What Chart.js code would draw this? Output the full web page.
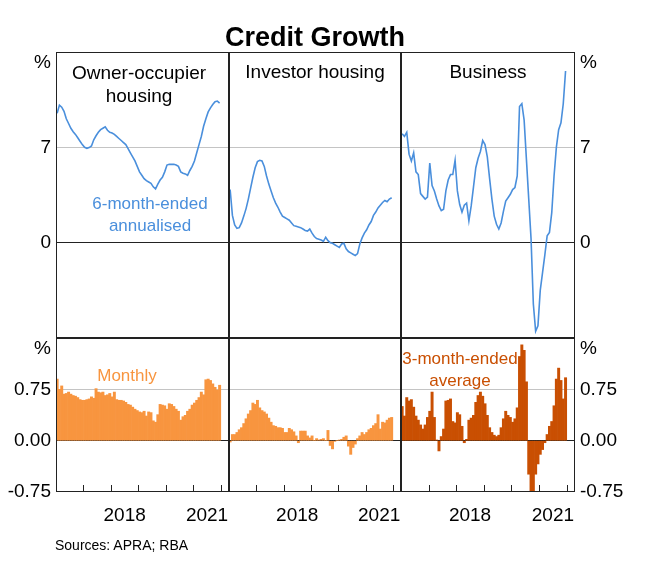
<!DOCTYPE html>
<html>
<head>
<meta charset="utf-8">
<script src="https://cdn.jsdelivr.net/npm/chart.js@4.4.0/dist/chart.umd.min.js"></script>
<style>
  body { margin: 0; background: #fff; font-family: "Liberation Sans", Arial, sans-serif; }
  #wrap { position: relative; width: 662px; height: 562px; overflow: hidden; }
  canvas { position: absolute; }
  .lbl { position: absolute; transform: translate(-50%, -50%); white-space: nowrap; font-size: 19px; line-height: 23px; text-align: center; }
  .note { font-size: 17px; line-height: 22px; }
</style>
</head>
<body>
<div id="wrap">
  <canvas id="c1"></canvas>
  <canvas id="c2"></canvas>
  <canvas id="c3"></canvas>
  <canvas id="c4"></canvas>
  <canvas id="c5"></canvas>
  <canvas id="c6"></canvas>

  <div class="lbl" style="left:315px; top:37px; font-size:27px; font-weight:bold;">Credit Growth</div>
  <div class="lbl" style="left:139px; top:84px;">Owner-occupier<br>housing</div>
  <div class="lbl" style="left:315px; top:71px;">Investor housing</div>
  <div class="lbl" style="left:488px; top:71px;">Business</div>
  <div class="lbl note" style="left:150px; top:215px; color:#4a8fdc;">6-month-ended<br>annualised</div>
  <div class="lbl note" style="left:127px; top:376px; color:#f8953f;">Monthly</div>
  <div class="lbl note" style="left:460px; top:370px; color:#c94f02;">3-month-ended<br>average</div>
  <div style="position:absolute; left:55px; top:537px; font-size:14px;">Sources: APRA; RBA</div>
</div>

<script>
// months from Jan 2016 to Dec 2021
const START = 2016;
const X_MAX = 2022.3;
const yearTicks = [2017, 2018, 2019, 2020, 2021, 2022];
const yearLabels = [2018, 2021];

const topTicks = [0, 7];
const bottomTicks = [-0.75, 0, 0.75];

// 6-month-ended annualised, %
const ownerGrowth = [9.5, 10.1, 9.95, 9.65, 9.1, 8.75, 8.4, 8.15, 7.95, 7.7, 7.45, 7.2,
  7.0, 6.93, 6.98, 7.1, 7.55, 7.85, 8.1, 8.3, 8.4, 8.5, 8.25, 8.1,
  8.05, 7.95, 7.8, 7.65, 7.5, 7.35, 7.2, 6.9, 6.6, 6.3, 6.0, 5.6,
  5.2, 4.95, 4.7, 4.55, 4.45, 4.35, 4.1, 3.95, 4.3, 4.6, 4.8, 5.2,
  5.7, 5.75, 5.75, 5.75, 5.7, 5.6, 5.2, 5.1, 5.05, 4.95, 5.3, 5.6,
  6.0, 6.6, 7.2, 7.8, 8.55, 9.1, 9.6, 9.9, 10.15, 10.35, 10.4, 10.25];
const investorGrowth = [3.9, 2.0, 1.3, 1.05, 1.1, 1.45, 1.95, 2.5, 3.2, 4.0, 4.8, 5.5,
  5.95, 6.05, 6.0, 5.6, 4.9, 4.3, 3.8, 3.3, 2.9, 2.6, 2.25, 1.95,
  1.85, 1.75, 1.65, 1.45, 1.25, 1.2, 1.15, 1.1, 1.0, 0.9, 0.85, 1.0,
  0.7, 0.45, 0.3, 0.25, 0.2, 0.1, 0.4, 0.15, 0.0, -0.05, -0.15, -0.25,
  -0.35, -0.1, -0.05, -0.45, -0.65, -0.75, -0.85, -0.95, -0.8, -0.1, 0.35, 0.7,
  0.95, 1.3, 1.55, 2.0, 2.25, 2.55, 2.75, 2.95, 3.1, 3.0, 3.2, 3.3];
const businessGrowth = [8.0, 7.8, 8.1, 6.5, 6.0, 6.6, 5.2, 5.0, 3.6, 3.4, 3.2, 3.35,
  5.85, 4.2, 3.8, 3.2, 2.7, 2.35, 2.45, 3.8, 4.6, 5.0, 5.0, 6.05,
  3.8, 2.8, 2.25, 2.75, 2.9, 1.6, 2.7, 4.1, 5.5, 6.2, 6.7, 7.5,
  7.2, 6.3, 4.7, 3.2, 1.95, 1.35, 1.0, 1.45, 2.3, 3.05, 3.3, 3.55,
  3.9, 4.05, 4.9, 10.0, 10.2, 9.0, 6.1, 3.2, 0.3, -4.5, -6.5, -6.1,
  -3.5, -2.2, -0.9, 0.5, 0.75, 2.2, 4.9, 7.0, 8.3, 8.8, 10.2, 12.6];

// monthly / 3-month-ended average, %
const ownerMonthly = [0.90, 0.75, 0.80, 0.68, 0.69, 0.71, 0.68, 0.66, 0.65, 0.63, 0.60, 0.59,
  0.59, 0.60, 0.61, 0.64, 0.62, 0.76, 0.71, 0.70, 0.71, 0.66, 0.67, 0.69,
  0.64, 0.71, 0.60, 0.59, 0.59, 0.58, 0.56, 0.53, 0.52, 0.49, 0.46, 0.44,
  0.42, 0.41, 0.43, 0.36, 0.42, 0.41, 0.29, 0.27, 0.38, 0.53, 0.52, 0.51,
  0.46, 0.54, 0.53, 0.50, 0.46, 0.43, 0.30, 0.35, 0.37, 0.43, 0.46, 0.52,
  0.55, 0.59, 0.63, 0.71, 0.67, 0.89, 0.90, 0.88, 0.83, 0.78, 0.74, 0.81];
const investorMonthly = [-0.02, 0.09, 0.09, 0.12, 0.16, 0.19, 0.25, 0.32, 0.39, 0.44, 0.55, 0.53,
  0.59, 0.48, 0.44, 0.42, 0.39, 0.33, 0.27, 0.22, 0.21, 0.19, 0.19, 0.18,
  0.12, 0.12, 0.18, 0.16, 0.13, 0.07, -0.03, 0.14, 0.14, 0.14, 0.07, 0.04,
  0.07, 0.00, 0.03, 0.01, 0.02, 0.03, 0.00, 0.15, -0.07, -0.12, -0.01, 0.00,
  0.01, 0.02, 0.05, 0.07, -0.08, -0.20, -0.10, -0.05, 0.03, 0.07, 0.12, 0.09,
  0.12, 0.16, 0.18, 0.22, 0.25, 0.38, 0.17, 0.27, 0.26, 0.30, 0.33, 0.34];
const business3m = [0.50, 0.36, 0.63, 0.58, 0.60, 0.49, 0.36, 0.30, 0.23, 0.17, 0.23, 0.34,
  0.43, 0.71, 0.34, 0.01, -0.15, 0.06, 0.17, 0.58, 0.59, 0.61, 0.28, 0.26,
  0.41, 0.38, 0.21, -0.03, 0.02, 0.30, 0.33, 0.37, 0.56, 0.66, 0.71, 0.65,
  0.54, 0.37, 0.19, 0.12, 0.08, 0.06, 0.08, 0.19, 0.32, 0.43, 0.37, 0.34,
  0.27, 0.32, 0.48, 1.23, 1.40, 1.32, 0.86, -0.49, -0.76, -0.76, -0.49, -0.34,
  -0.20, -0.13, -0.03, 0.09, 0.21, 0.28, 0.51, 0.90, 1.06, 0.88, 0.61, 0.92];

const BLUE = '#4a8fdc';
const ORANGE = '#f8953f';
const DARK_ORANGE = '#c94f02';
const FONT = { family: '"Liberation Sans", Arial, sans-serif', size: 19 };

// values where the "%" unit label sits
const PCT_TOP = 13.2;
const PCT_BOTTOM = 1.35;

function pts(arr) {
  return arr.map((v, i) => ({ x: START + (i + 0.5) / 12, y: v }));
}

// panel outline
const framePlugin = {
  id: 'frame',
  afterDraw(chart) {
    const { ctx, chartArea: a } = chart;
    ctx.save();
    ctx.strokeStyle = '#222';
    ctx.lineWidth = 1;
    ctx.strokeRect(Math.round(a.left) + 0.5, Math.round(a.top) + 0.5,
      Math.round(a.right - a.left) - 1, Math.round(a.bottom - a.top) - 1);
    ctx.restore();
  }
};

// little year marks pointing up from the bottom edge
const yearTickPlugin = {
  id: 'yearTicks',
  afterDraw(chart) {
    const { ctx, chartArea: a, scales } = chart;
    ctx.save();
    ctx.strokeStyle = '#222';
    ctx.lineWidth = 1;
    yearTicks.forEach(yr => {
      const px = Math.round(scales.x.getPixelForValue(yr)) + 0.5;
      ctx.beginPath();
      ctx.moveTo(px, a.bottom);
      ctx.lineTo(px, a.bottom - 7);
      ctx.stroke();
    });
    ctx.restore();
  }
};

function gridColor(ctx) {
  const v = ctx.tick.value;
  if (v === 0) return '#222';
  if (v === 7 || v === 0.75) return '#c4c4c4';
  return 'rgba(0,0,0,0)';
}

function makeChart(id, box, cfg) {
  const cv = document.getElementById(id);
  cv.width = box.w;
  cv.height = box.h;
  cv.style.left = box.x + 'px';
  cv.style.top = box.y + 'px';
  cv.style.width = box.w + 'px';
  cv.style.height = box.h + 'px';

  const isBottom = cfg.row === 'bottom';
  const ticks = isBottom ? bottomTicks.concat([PCT_BOTTOM]) : topTicks.concat([PCT_TOP]);

  return new Chart(cv.getContext('2d'), {
    data: { datasets: [cfg.dataset] },
    plugins: isBottom ? [framePlugin, yearTickPlugin] : [framePlugin],
    options: {
      responsive: false,
      animation: false,
      devicePixelRatio: 1,
      layout: { padding: box.pad },
      plugins: { legend: { display: false }, tooltip: { enabled: false } },
      scales: {
        x: {
          type: 'linear',
          min: START,
          max: X_MAX,
          offset: false,
          display: isBottom,
          afterBuildTicks: s => { s.ticks = yearLabels.map(v => ({ value: v + 0.5 })); },
          afterFit: s => { if (isBottom) s.height = 38; },
          grid: { display: false, offset: false },
          border: { display: false },
          ticks: {
            autoSkip: false,
            maxRotation: 0,
            padding: 4,
            color: '#000',
            font: FONT,
            callback: v => String(Math.floor(v))
          }
        },
        y: {
          type: 'linear',
          position: cfg.side,
          min: isBottom ? -0.75 : -7,
          max: isBottom ? 1.5 : 14,
          afterBuildTicks: s => { s.ticks = ticks.map(v => ({ value: v })); },
          afterFit: s => { s.width = cfg.axisWidth; },
          grid: { drawTicks: false, color: gridColor, lineWidth: 1 },
          border: { display: false },
          ticks: {
            display: cfg.axisWidth > 0,
            padding: 5,
            color: '#000',
            font: FONT,
            callback: v => {
              if (v === PCT_TOP || v === PCT_BOTTOM) return '%';
              return isBottom ? v.toFixed(2) : String(v);
            }
          }
        }
      }
    }
  });
}

function lineSet(values) {
  return {
    type: 'line',
    data: pts(values),
    borderColor: BLUE,
    borderWidth: 1.6,
    pointRadius: 0,
    tension: 0
  };
}

function barSet(values, color) {
  return {
    type: 'bar',
    data: pts(values),
    backgroundColor: color,
    borderWidth: 0,
    barPercentage: 1,
    categoryPercentage: 1
  };
}

// chart areas: columns 56-229, 229-401, 401-575; rows 52-338, 338-492
const topRow = { y: 32, h: 326 };
const botRow = { y: 318, h: 212 };

makeChart('c1', { x: 0, w: 240, y: topRow.y, h: topRow.h, pad: { top: 20, bottom: 20, left: 0, right: 11 } },
  { row: 'top', side: 'left', axisWidth: 56, dataset: lineSet(ownerGrowth) });
makeChart('c2', { x: 219, w: 192, y: topRow.y, h: topRow.h, pad: { top: 20, bottom: 20, left: 10, right: 10 } },
  { row: 'top', side: 'left', axisWidth: 0, dataset: lineSet(investorGrowth) });
makeChart('c3', { x: 391, w: 271, y: topRow.y, h: topRow.h, pad: { top: 20, bottom: 20, left: 10, right: 0 } },
  { row: 'top', side: 'right', axisWidth: 87, dataset: lineSet(businessGrowth) });

makeChart('c4', { x: 0, w: 240, y: botRow.y, h: botRow.h, pad: { top: 20, bottom: 0, left: 0, right: 11 } },
  { row: 'bottom', side: 'left', axisWidth: 56, dataset: barSet(ownerMonthly, ORANGE) });
makeChart('c5', { x: 219, w: 192, y: botRow.y, h: botRow.h, pad: { top: 20, bottom: 0, left: 10, right: 10 } },
  { row: 'bottom', side: 'left', axisWidth: 0, dataset: barSet(investorMonthly, ORANGE) });
makeChart('c6', { x: 391, w: 271, y: botRow.y, h: botRow.h, pad: { top: 20, bottom: 0, left: 10, right: 0 } },
  { row: 'bottom', side: 'right', axisWidth: 87, dataset: barSet(business3m, DARK_ORANGE) });
</script>
</body>
</html>
